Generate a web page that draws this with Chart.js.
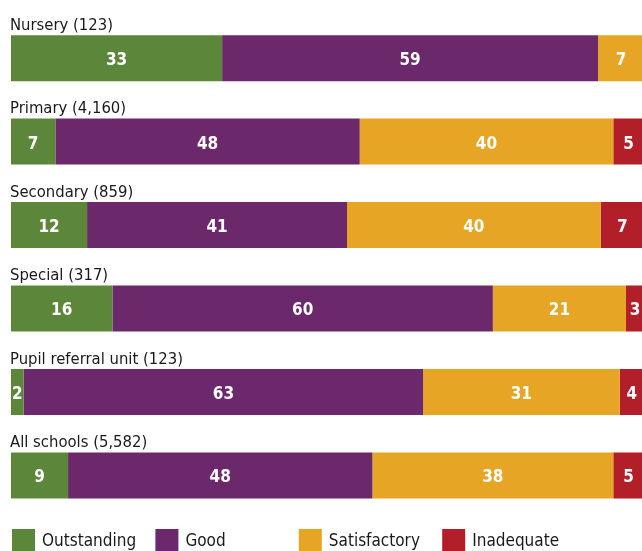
<!DOCTYPE html>
<html lang="en">
<head>
    <meta charset="UTF-8">
    <title>Inspection judgements by school type</title>
    <style>
        html, body {
            margin: 0;
            padding: 0;
            background: #fff;
            overflow: hidden;
        }
        #wrap {
            width: 652px;
            height: 551px;
        }
    </style>
</head>
<body>
    <div id="wrap"><canvas id="chart" width="652" height="551"></canvas></div>

    <script src="https://cdn.jsdelivr.net/npm/chart.js"></script>
    <script>
        // data (percentages; nursery bar read from its length)
        const categories = ['Nursery (123)', 'Primary (4,160)', 'Secondary (859)', 'Special (317)', 'Pupil referral unit (123)', 'All schools (5,582)'];
        const outstanding = [33.3, 7, 12, 16, 2, 9];
        const good = [59.3, 48, 41, 60, 63, 48];
        const satisfactory = [7.4, 40, 40, 21, 31, 38];
        const inadequate = [0, 5, 7, 3, 4, 5];
        const seriesNames = ['Outstanding', 'Good', 'Satisfactory', 'Inadequate'];
        const seriesColors = ['#5c873b', '#6b286a', '#e6a524', '#b31f29'];

        const FONT = '"DejaVu Sans Condensed", "Open Sans", sans-serif';

        // labels above bars, numbers inside segments, legend at the bottom
        const labelPlugin = {
            id: 'labels',
            afterDatasetsDraw(chart) {
                const ctx = chart.ctx;
                ctx.save();

                // category titles
                ctx.fillStyle = '#1a1a1a';
                ctx.font = '16.5px ' + FONT;
                ctx.textAlign = 'left';
                ctx.textBaseline = 'alphabetic';
                const bar0 = chart.getDatasetMeta(0).data;
                categories.forEach((c, i) => {
                    const b = bar0[i];
                    ctx.fillText(c, chart.chartArea.left - 1, b.y - b.height / 2 - 5.5);
                });

                // segment values
                ctx.fillStyle = '#fff';
                ctx.font = 'bold 17px ' + FONT;
                ctx.textAlign = 'center';
                ctx.textBaseline = 'middle';
                chart.data.datasets.forEach((ds, di) => {
                    const meta = chart.getDatasetMeta(di);
                    meta.data.forEach((bar, i) => {
                        const v = ds.data[i];
                        if (v < 1) return;
                        const left = bar.base, right = bar.x;
                        let cx = (left + right) / 2;
                        // keep number visible when the segment is cut by the window edge
                        if (right > 642) cx = (left + 642) / 2 + 1;
                        ctx.fillText(String(Math.round(v)), cx, bar.y + 2.5);
                    });
                });

                // legend
                ctx.font = '17px ' + FONT;
                ctx.textAlign = 'left';
                seriesNames.forEach((n, i) => {
                    const x = 12 + i * 143.4;
                    ctx.fillStyle = seriesColors[i];
                    ctx.fillRect(x, 529, 23, 24);
                    ctx.fillStyle = '#1a1a1a';
                    ctx.fillText(n, x + 30, 542);
                });
                ctx.restore();
            }
        };

        const values = [outstanding, good, satisfactory, inadequate];

        new Chart(document.getElementById('chart').getContext('2d'), {
            type: 'bar',
            data: {
                labels: categories,
                datasets: seriesNames.map((n, i) => ({
                    label: n,
                    data: values[i],
                    backgroundColor: seriesColors[i],
                    borderWidth: 0,
                    barPercentage: 0.551,
                    categoryPercentage: 1.0
                }))
            },
            options: {
                indexAxis: 'y',
                responsive: false,
                animation: false,
                layout: {
                    padding: { left: 11, right: 7, top: 16.4, bottom: 33.8 }
                },
                plugins: {
                    legend: { display: false },
                    tooltip: { enabled: false }
                },
                scales: {
                    x: {
                        stacked: true,
                        min: 0,
                        max: 100,
                        display: false
                    },
                    y: {
                        stacked: true,
                        display: false
                    }
                }
            },
            plugins: [labelPlugin]
        });
    </script>
</body>
</html>
